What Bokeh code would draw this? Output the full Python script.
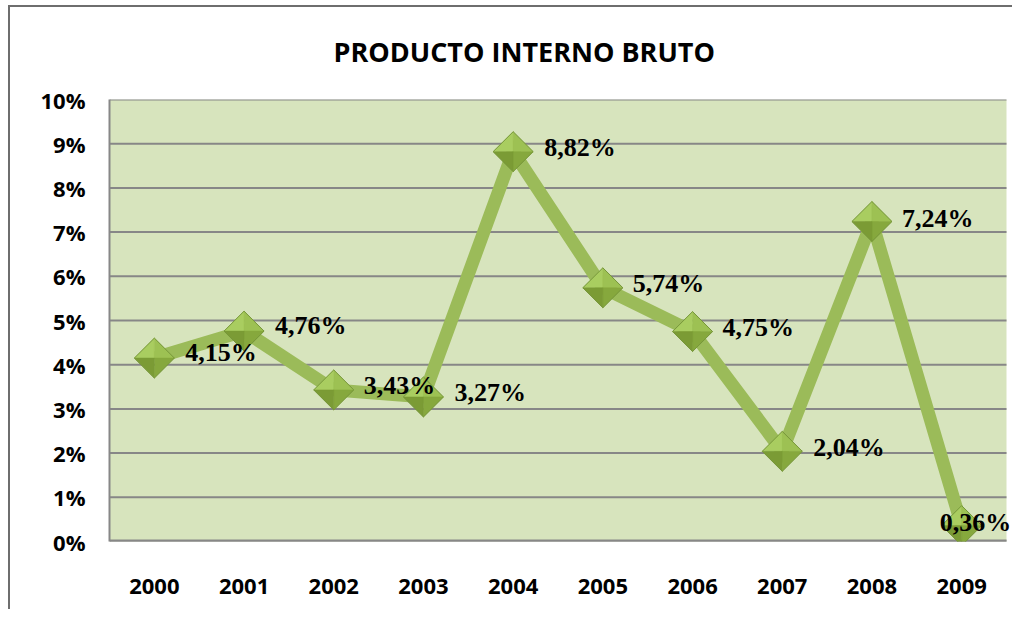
from bokeh.plotting import figure
from bokeh.models import ColumnDataSource, Range1d, FixedTicker, LabelSet
from bokeh.embed import file_html
from bokeh.resources import INLINE

years = ["2000", "2001", "2002", "2003", "2004", "2005", "2006", "2007", "2008", "2009"]
pib = [4.15, 4.76, 3.43, 3.27, 8.82, 5.74, 4.75, 2.04, 7.24, 0.36]
labels = ["4,15%", "4,76%", "3,43%", "3,27%", "8,82%", "5,74%", "4,75%", "2,04%", "7,24%", "0,36%"]
y_ticks = list(range(0, 11))
y_tick_labels = [f"{t}%" for t in y_ticks]

# style: label offsets in pixels
label_dx = [31, 31, 30, 31, 31, 30, 30, 31, 30, -22]
label_dy = [6, 6, 4, 4, 4, 4, 4, 4, 3, 3]

W, H = 1012, 609
BL, BT, BB = 109, 98, 68
PX_PER_X = 89.7           # pixel width of one category
frame_w = W - BL
frame_h = H - BT - BB
n = len(years)
x_end = -0.5 + frame_w / PX_PER_X

xs = list(range(n))

p = figure(width=W, height=H, output_backend="svg", toolbar_location=None,
           x_range=Range1d(-0.5, x_end), y_range=Range1d(0, 10),
           min_border_left=BL, min_border_right=0, min_border_top=BT, min_border_bottom=BB,
           title="PRODUCTO INTERNO BRUTO")
p.border_fill_color = None
p.background_fill_color = None
p.outline_line_color = None
p.styles = {
    "background": "linear-gradient(#6e6e6e,#6e6e6e) 8px 5px / 2px 100% no-repeat, "
                  "linear-gradient(#6e6e6e,#6e6e6e) 8px 5px / 100% 2px no-repeat, #ffffff"
}

p.title.align = "left"
p.title.offset = 224
p.title.text_font = "Open Sans"
p.title.text_font_style = "bold"
p.title.text_font_size = "27px"
p.title.text_color = "#000000"
p.title.standoff = 60

p.xgrid.grid_line_color = None
p.ygrid.grid_line_color = None

# plot area background and horizontal gridlines, limited to the category span
p.quad(left=-0.5, right=n - 0.5, bottom=0, top=10, fill_color="#d7e4bd", line_color=None)
p.segment(x0=[-0.5] * len(y_ticks), x1=[n - 0.5] * len(y_ticks), y0=y_ticks, y1=y_ticks,
          line_color="#878787", line_width=2)
p.segment(x0=[-0.5], x1=[n - 0.5], y0=[0], y1=[0], line_color="#878787", line_width=4)

p.yaxis.ticker = FixedTicker(ticks=y_ticks)
p.yaxis.major_label_overrides = {t: l for t, l in zip(y_ticks, y_tick_labels)}
p.xaxis.ticker = FixedTicker(ticks=xs)
p.xaxis.major_label_overrides = {i: y for i, y in enumerate(years)}

for ax in (p.xaxis, p.yaxis):
    ax.axis_line_color = "#878787"
    ax.axis_line_width = 2
    ax.major_tick_line_color = None
    ax.minor_tick_line_color = None
    ax.major_tick_out = 0
    ax.major_tick_in = 0
    ax.major_label_text_font = "Open Sans"
    ax.major_label_text_font_style = "bold"
    ax.major_label_text_font_size = "22px"
    ax.major_label_text_color = "#000000"
p.xaxis.axis_line_color = None
p.yaxis.major_label_standoff = 24
p.xaxis.major_label_standoff = 37

src = ColumnDataSource(dict(x=xs, y=pib, lab=labels, dx=label_dx, dy=label_dy))

p.line("x", "y", source=src, line_color="#9bbb59", line_width=13, line_join="miter")

# diamonds built from the data points (pixel half-size converted to data units)
half = 20
ux = half / PX_PER_X
uy = half * 10 / frame_h
faces = [
    ("#a9cd60", lambda x, y: ([x - ux, x, x], [y, y + uy, y])),
    ("#9dc153", lambda x, y: ([x, x + ux, x], [y + uy, y, y])),
    ("#86a83d", lambda x, y: ([x + ux, x, x], [y, y - uy, y])),
    ("#7b9b35", lambda x, y: ([x, x - ux, x], [y - uy, y, y])),
]
for col, fn in faces:
    pxs, pys = [], []
    for x, y in zip(xs, pib):
        a, b = fn(x, y)
        pxs.append(a)
        pys.append(b)
    p.patches(pxs, pys, fill_color=col, line_color=col, line_width=0.5)
p.patches([[x - ux, x, x + ux, x] for x in xs], [[y, y + uy, y, y - uy] for y in pib],
          fill_color=None, line_color="#76963a", line_width=1)

ls = LabelSet(x="x", y="y", text="lab", source=src, x_offset="dx", y_offset="dy",
              text_font="Liberation Serif", text_font_style="bold", text_font_size="26px",
              text_color="#000000", text_baseline="middle", text_align="left")
p.add_layout(ls)

open("out.html", "w").write(file_html(p, INLINE))
